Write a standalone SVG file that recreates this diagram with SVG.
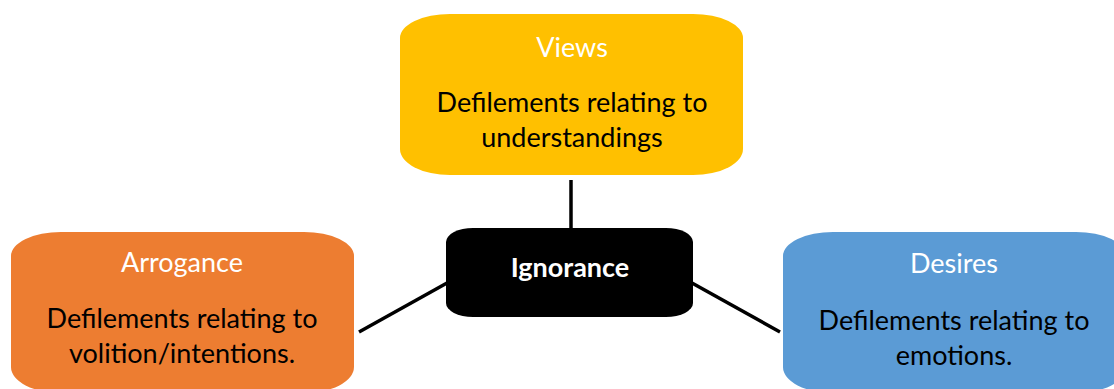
<svg xmlns="http://www.w3.org/2000/svg" width="1114" height="389" viewBox="0 0 1114 389">
  <style>
    .lbl { font-family: Lato, "Liberation Sans", sans-serif; font-size: 27px; text-anchor: middle; }
    .title { fill: #ffffff; }
    .body { fill: #000000; }
    .hub { fill: #ffffff; font-weight: bold; }
    .link { stroke: #000000; stroke-width: 3.5; fill: none; }
  </style>
  <rect width="1114" height="389" fill="#ffffff"/>

  <!-- spokes from the hub to the three category boxes -->
  <g id="connectors">
    <line class="link" x1="571" y1="180" x2="571" y2="229"/>
    <line class="link" x1="447" y1="283" x2="359" y2="332"/>
    <line class="link" x1="692" y1="283" x2="780" y2="332"/>
  </g>

  <g id="views">
    <path d="M400,38 A50,24 0 0 1 450,14 H693 A50,24 0 0 1 743,38 V149 A50,26 0 0 1 693,175 H450 A50,26 0 0 1 400,149 Z" fill="#ffc000"/>
    <text class="lbl title" x="572" y="57">Views</text>
    <text class="lbl body" x="572" y="112">Defilements relating to</text>
    <text class="lbl body" x="572" y="147">understandings</text>
  </g>

  <g id="arrogance">
    <path d="M11,256 A50,24 0 0 1 61,232 H304 A50,24 0 0 1 354,256 V367 A50,26 0 0 1 304,393 H61 A50,26 0 0 1 11,367 Z" fill="#ed7d31"/>
    <text class="lbl title" x="182" y="272">Arrogance</text>
    <text class="lbl body" x="182" y="328">Defilements relating to</text>
    <text class="lbl body" x="182" y="363">volition/intentions.</text>
  </g>

  <g id="desires">
    <path d="M783,256 A50,24 0 0 1 833,232 H1076 A50,24 0 0 1 1126,256 V367 A50,26 0 0 1 1076,393 H833 A50,26 0 0 1 783,367 Z" fill="#5b9bd5"/>
    <text class="lbl title" x="954" y="273">Desires</text>
    <text class="lbl body" x="954" y="330">Defilements relating to</text>
    <text class="lbl body" x="954" y="365">emotions.</text>
  </g>

  <g id="ignorance">
    <path d="M446,242 A27,14 0 0 1 473,228 H666 A27,14 0 0 1 693,242 V303 A27,14 0 0 1 666,317 H473 A27,14 0 0 1 446,303 Z" fill="#000000"/>
    <text class="lbl hub" x="570" y="277">Ignorance</text>
  </g>
</svg>
